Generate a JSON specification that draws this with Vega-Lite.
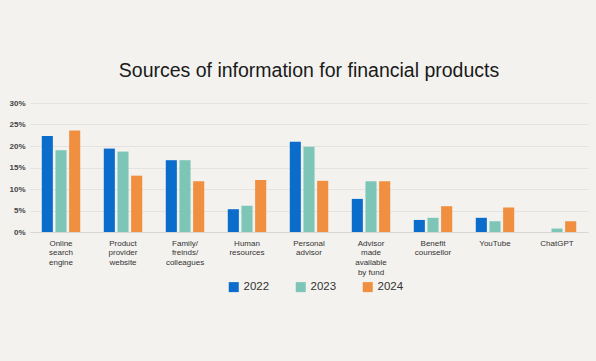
{
  "$schema": "https://vega.github.io/schema/vega-lite/v6.json",
  "autosize": {"type": "none"},
  "width": 558,
  "height": 129,
  "padding": {"left": 30, "top": 103, "right": 8, "bottom": 129},
  "background": "#f3f2ef",
  "title": {
    "text": "Sources of information for financial products",
    "font": "Liberation Sans",
    "fontSize": 19.5,
    "fontWeight": "normal",
    "color": "#1a1a1a",
    "anchor": "middle",
    "baseline": "alphabetic",
    "offset": 3
  },
  "data": {
    "values": [
      {"source": "Online search engine", "year": "2022", "share": 22.3},
      {"source": "Online search engine", "year": "2023", "share": 19.0},
      {"source": "Online search engine", "year": "2024", "share": 23.6},
      {"source": "Product provider website", "year": "2022", "share": 19.4},
      {"source": "Product provider website", "year": "2023", "share": 18.7},
      {"source": "Product provider website", "year": "2024", "share": 13.1},
      {"source": "Family/ freinds/ colleagues", "year": "2022", "share": 16.7},
      {"source": "Family/ freinds/ colleagues", "year": "2023", "share": 16.7},
      {"source": "Family/ freinds/ colleagues", "year": "2024", "share": 11.8},
      {"source": "Human resources", "year": "2022", "share": 5.3},
      {"source": "Human resources", "year": "2023", "share": 6.1},
      {"source": "Human resources", "year": "2024", "share": 12.1},
      {"source": "Personal advisor", "year": "2022", "share": 21.0},
      {"source": "Personal advisor", "year": "2023", "share": 19.8},
      {"source": "Personal advisor", "year": "2024", "share": 11.9},
      {"source": "Advisor made available by fund", "year": "2022", "share": 7.7},
      {"source": "Advisor made available by fund", "year": "2023", "share": 11.8},
      {"source": "Advisor made available by fund", "year": "2024", "share": 11.8},
      {"source": "Benefit counsellor", "year": "2022", "share": 2.8},
      {"source": "Benefit counsellor", "year": "2023", "share": 3.3},
      {"source": "Benefit counsellor", "year": "2024", "share": 6.0},
      {"source": "YouTube", "year": "2022", "share": 3.3},
      {"source": "YouTube", "year": "2023", "share": 2.5},
      {"source": "YouTube", "year": "2024", "share": 5.7},
      {"source": "ChatGPT", "year": "2022", "share": 0},
      {"source": "ChatGPT", "year": "2023", "share": 0.8},
      {"source": "ChatGPT", "year": "2024", "share": 2.5}
    ]
  },
  "mark": {"type": "bar"},
  "encoding": {
    "x": {
      "field": "source",
      "type": "nominal",
      "sort": null,
      "scale": {"paddingInner": 0.38, "paddingOuter": 0.19},
      "axis": {
        "title": null,
        "labelAngle": 0,
        "labelFont": "Liberation Sans",
        "labelFontSize": 8,
        "labelColor": "#333333",
        "labelLineHeight": 9.9,
        "labelPadding": 7,
        "labelBaseline": "top",
        "labelExpr": "datum.label == 'Online search engine' ? ['Online','search','engine'] : datum.label == 'Product provider website' ? ['Product','provider','website'] : datum.label == 'Family/ freinds/ colleagues' ? ['Family/','freinds/','colleagues'] : datum.label == 'Human resources' ? ['Human','resources'] : datum.label == 'Personal advisor' ? ['Personal','advisor'] : datum.label == 'Advisor made available by fund' ? ['Advisor','made','available','by fund'] : datum.label == 'Benefit counsellor' ? ['Benefit','counsellor'] : datum.label",
        "ticks": false,
        "domain": true,
        "domainColor": "#d8d7d3",
        "domainWidth": 1,
        "labelLimit": 0
      }
    },
    "xOffset": {
      "field": "year",
      "type": "nominal",
      "scale": {"paddingInner": 0.19}
    },
    "y": {
      "field": "share",
      "type": "quantitative",
      "scale": {"domain": [0, 30]},
      "axis": {
        "title": null,
        "values": [0, 5, 10, 15, 20, 25, 30],
        "labelExpr": "datum.value + '%'",
        "labelFont": "Liberation Sans",
        "labelFontSize": 8,
        "labelFontWeight": "bold",
        "labelColor": "#444444",
        "labelPadding": 5,
        "ticks": false,
        "domain": false,
        "grid": true,
        "gridColor": "#e4e3df",
        "gridWidth": 1
      }
    },
    "color": {
      "field": "year",
      "type": "nominal",
      "scale": {"domain": ["2022", "2023", "2024"], "range": ["#0a6dcc", "#7dc6b7", "#ef8f3f"]},
      "legend": {
        "title": null,
        "orient": "none",
        "direction": "horizontal",
        "legendX": 198,
        "legendY": 178,
        "symbolType": "square",
        "symbolSize": 100,
        "symbolStrokeWidth": 0,
        "labelFont": "Liberation Sans",
        "labelFontSize": 11.5,
        "labelColor": "#333333",
        "labelOffset": 4,
        "columnPadding": 25
      }
    }
  },
  "config": {
    "view": {"stroke": null}
  }
}
